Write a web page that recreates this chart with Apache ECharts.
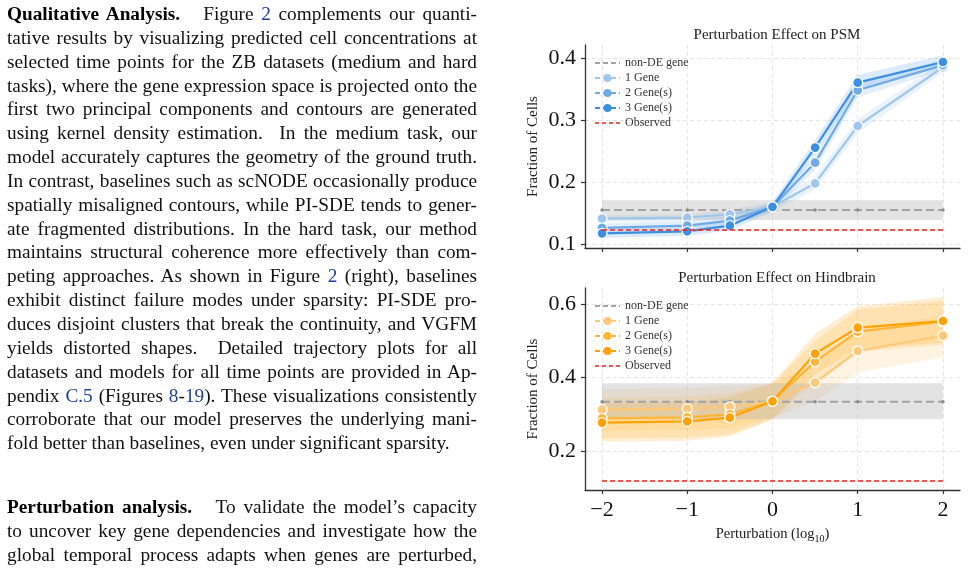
<!DOCTYPE html>
<html>
<head>
<meta charset="utf-8">
<script src="https://cdn.jsdelivr.net/npm/echarts@6/dist/echarts.min.js"></script>
<style>
  html, body { margin: 0; padding: 0; background: #fff; }
  #wrap { position: relative; width: 968px; height: 569px; overflow: hidden; }
  #chart { position: absolute; left: 0; top: 0; width: 968px; height: 569px; }
  .para { position: absolute; left: 7px; width: 470px; font-family: "Liberation Serif", "Times New Roman", serif;
          font-size: 19.3px; line-height: 23.85px; color: #111; }
  .para div { white-space: nowrap; text-align: justify; text-align-last: justify; }
  .para div.last { text-align-last: left; }
  .para a { color: #1f3f99; text-decoration: none; }
  .para b { font-weight: bold; color: #000; }
</style>
</head>
<body>
<div id="wrap">
  <div id="chart"></div>
  <div class="para" style="top:2px;">
    <div><b>Qualitative Analysis.</b>&nbsp;&nbsp; Figure <a>2</a> complements our quanti-</div>
    <div>tative results by visualizing predicted cell concentrations at</div>
    <div>selected time points for the ZB datasets (medium and hard</div>
    <div>tasks), where the gene expression space is projected onto the</div>
    <div>first two principal components and contours are generated</div>
    <div>using kernel density estimation.&nbsp; In the medium task, our</div>
    <div>model accurately captures the geometry of the ground truth.</div>
    <div>In contrast, baselines such as scNODE occasionally produce</div>
    <div>spatially misaligned contours, while PI-SDE tends to gener-</div>
    <div>ate fragmented distributions. In the hard task, our method</div>
    <div>maintains structural coherence more effectively than com-</div>
    <div>peting approaches. As shown in Figure <a>2</a> (right), baselines</div>
    <div>exhibit distinct failure modes under sparsity: PI-SDE pro-</div>
    <div>duces disjoint clusters that break the continuity, and VGFM</div>
    <div>yields distorted shapes.&nbsp; Detailed trajectory plots for all</div>
    <div>datasets and models for all time points are provided in Ap-</div>
    <div>pendix <a>C.5</a> (Figures <a>8</a>-<a>19</a>). These visualizations consistently</div>
    <div>corroborate that our model preserves the underlying mani-</div>
    <div class="last">fold better than baselines, even under significant sparsity.</div>
  </div>
  <div class="para" style="top:495px;">
    <div><b>Perturbation analysis.</b>&nbsp;&nbsp; To validate the model’s capacity</div>
    <div>to uncover key gene dependencies and investigate how the</div>
    <div>global temporal process adapts when genes are perturbed,</div>
  </div>
</div>
<script>
// ---------------- data ----------------
const xVals = [-2, -1, -0.5, 0, 0.5, 1, 2];
const xTicks = [-2, -1, 0, 1, 2];

// PSM panel
const psmGene1   = [0.141, 0.1426, 0.148, 0.160, 0.198, 0.2907, 0.3855];
const psmGene1Lo = [0.135, 0.137, 0.142, 0.152, 0.188, 0.279, 0.377];
const psmGene1Hi = [0.147, 0.148, 0.155, 0.168, 0.210, 0.302, 0.395];
const psmGene2   = [0.126, 0.1297, 0.1377, 0.160, 0.2314, 0.3483, 0.389];
const psmGene2Lo = [0.119, 0.122, 0.130, 0.152, 0.220, 0.337, 0.381];
const psmGene2Hi = [0.133, 0.137, 0.146, 0.168, 0.243, 0.360, 0.398];
const psmGene3   = [0.1172, 0.1205, 0.1296, 0.160, 0.2557, 0.3607, 0.394];
const psmGene3Lo = [0.110, 0.113, 0.122, 0.152, 0.244, 0.350, 0.386];
const psmGene3Hi = [0.125, 0.128, 0.138, 0.168, 0.268, 0.373, 0.405];
const psmNonDE = [0.155, 0.155, 0.155, 0.155, 0.155, 0.155, 0.155];
const psmNonDELo = [0.1388, 0.1388, 0.1388, 0.1388, 0.1388, 0.1388, 0.1388];
const psmNonDEHi = [0.1706, 0.1706, 0.1706, 0.1706, 0.1706, 0.1706, 0.1706];
const psmObserved = 0.1227;
const psmYTicks = [0.1, 0.2, 0.3, 0.4];

// Hindbrain panel
const hbGene1   = [0.3127, 0.3155, 0.320, 0.3355, 0.3864, 0.4727, 0.5145];
const hbGene1Lo = [0.255, 0.258, 0.262, 0.290, 0.335, 0.415, 0.455];
const hbGene1Hi = [0.370, 0.372, 0.378, 0.385, 0.440, 0.530, 0.570];
const hbGene2   = [0.289, 0.2918, 0.300, 0.3355, 0.4436, 0.5255, 0.5527];
const hbGene2Lo = [0.235, 0.237, 0.245, 0.288, 0.390, 0.470, 0.490];
const hbGene2Hi = [0.345, 0.348, 0.358, 0.385, 0.500, 0.585, 0.610];
const hbGene3   = [0.2773, 0.2809, 0.2909, 0.3355, 0.4655, 0.5364, 0.5545];
const hbGene3Lo = [0.225, 0.228, 0.240, 0.285, 0.410, 0.480, 0.495];
const hbGene3Hi = [0.330, 0.333, 0.345, 0.385, 0.520, 0.595, 0.620];
const hbNonDE = [0.3345, 0.3345, 0.3345, 0.3345, 0.3345, 0.3345, 0.3345];
const hbNonDELo = [0.2864, 0.2864, 0.2864, 0.2864, 0.2864, 0.2864, 0.2864];
const hbNonDEHi = [0.3845, 0.3845, 0.3845, 0.3845, 0.3845, 0.3845, 0.3845];
const hbObserved = 0.118;
const hbYTicks = [0.2, 0.4, 0.6];

const legendNames = ['non-DE gene', '1 Gene', '2 Gene(s)', '3 Gene(s)', 'Observed'];

// ---------------- styles ----------------
const blues = ['#9fc6ec', '#6eaae6', '#3d8fe0'];
const oranges = ['#fdc878', '#ffb637', '#ffa205'];
const grayLine = '#a3a3a3';
const grayDot = '#8c8c8c';
const redLine = '#f21c1c';
const serif = '"Liberation Serif", "Times New Roman", serif';

function fmtTick(v) {
  if (Math.abs(v) < 1e-9) return '0';
  return v < 0 ? '\u2212' + Math.abs(v) : String(v);
}

function bandSeries(gi, lo, hi, color, opacity, z) {
  return {
    type: 'custom', xAxisIndex: gi, yAxisIndex: gi, silent: true, z: z,
    data: xVals.map((x, i) => [x, lo[i], hi[i]]),
    encode: { x: 0, y: [1, 2] },
    renderItem: function (params, api) {
      if (params.dataIndex !== 0) return null;
      const pts = [];
      for (let i = 0; i < xVals.length; i++) pts.push(api.coord([xVals[i], hi[i]]));
      for (let i = xVals.length - 1; i >= 0; i--) pts.push(api.coord([xVals[i], lo[i]]));
      return { type: 'polygon', shape: { points: pts }, style: { fill: color, opacity: opacity } };
    }
  };
}

function geneSeries(gi, name, vals, color, z) {
  return {
    type: 'line', name: name, xAxisIndex: gi, yAxisIndex: gi, z: z,
    data: xVals.map((x, i) => [x, vals[i]]),
    symbol: 'circle', symbolSize: 10, showSymbol: true,
    lineStyle: { color: color, width: 2.2 },
    itemStyle: { color: color, borderColor: '#ffffff', borderWidth: 1.3 },
    emphasis: { disabled: true }
  };
}

function nonDESeries(gi, name, vals) {
  return {
    type: 'line', name: name, xAxisIndex: gi, yAxisIndex: gi, z: 4,
    data: xVals.map((x, i) => [x, vals[i]]),
    symbol: 'circle', symbolSize: 3.5,
    lineStyle: { color: grayLine, width: 2, type: [8, 4] },
    itemStyle: { color: grayDot },
    emphasis: { disabled: true }
  };
}

function observedSeries(gi, name, v) {
  return {
    type: 'line', name: name, xAxisIndex: gi, yAxisIndex: gi, z: 6,
    data: [[xVals[0], v], [xVals[xVals.length - 1], v]],
    symbol: 'none',
    lineStyle: { color: redLine, width: 1.5, type: [5, 3] },
    itemStyle: { color: redLine },
    emphasis: { disabled: true }
  };
}

function panelSeries(gi, prefix, d, cols) {
  return [
    bandSeries(gi, d.g1lo, d.g1hi, cols[0], 0.22, 1),
    bandSeries(gi, d.g2lo, d.g2hi, cols[1], 0.2, 1),
    bandSeries(gi, d.g3lo, d.g3hi, cols[2], 0.18, 1),
    bandSeries(gi, d.nlo, d.nhi, '#b0b0b0', 0.35, 2),
    nonDESeries(gi, prefix + '|non-DE gene', d.non),
    geneSeries(gi, prefix + '|1 Gene', d.g1, cols[0], 5),
    geneSeries(gi, prefix + '|2 Gene(s)', d.g2, cols[1], 5),
    geneSeries(gi, prefix + '|3 Gene(s)', d.g3, cols[2], 5),
    observedSeries(gi, prefix + '|Observed', d.obs)
  ];
}

function legendFor(prefix, top, cols) {
  const colorMap = { 'non-DE gene': grayLine, '1 Gene': cols[0], '2 Gene(s)': cols[1], '3 Gene(s)': cols[2], 'Observed': redLine };
  return {
    orient: 'vertical', left: 589, top: top,
    itemWidth: 25, itemHeight: 10, itemGap: 3,
    selectedMode: false,
    formatter: n => n.split('|')[1],
    textStyle: { fontFamily: serif, fontSize: 12, color: '#333', lineHeight: 12 },
    data: legendNames.map(n => ({
      name: prefix + '|' + n,
      itemStyle: { color: colorMap[n], borderWidth: 0, opacity: (n === 'non-DE gene' || n === 'Observed') ? 0 : 1 },
      lineStyle: { color: colorMap[n], width: n === 'Observed' ? 1.5 : 2, type: n === 'Observed' ? [4, 3] : [5, 3] }
    }))
  };
}

function xAxisFor(gi, showLabels, withName) {
  return {
    type: 'value', gridIndex: gi, min: -2.2, max: 2.2,
    axisLine: { show: true, onZero: false, lineStyle: { color: '#333', width: 1.3 } },
    axisTick: { show: true, inside: false, length: 4, customValues: xTicks, lineStyle: { color: '#333', width: 1.2 } },
    axisLabel: { show: showLabels, customValues: xTicks, formatter: fmtTick, margin: 9,
                 fontFamily: serif, fontSize: 22, color: '#111' },
    splitLine: { show: true, lineStyle: { color: '#e2e2e2', width: 0.9, type: [4, 3] } },
    name: withName ? '{n|Perturbation (log}{s|10}{n|)}' : '',
    nameLocation: 'middle', nameGap: 35,
    nameTextStyle: { rich: {
      n: { fontFamily: serif, fontSize: 14.5, color: '#222' },
      s: { fontFamily: serif, fontSize: 10, color: '#222', padding: [9, 0, 0, 0] }
    } }
  };
}

function yAxisFor(gi, min, max, ticks) {
  return {
    type: 'value', gridIndex: gi, min: min, max: max,
    axisLine: { show: true, onZero: false, lineStyle: { color: '#333', width: 1.3 } },
    axisTick: { show: true, inside: false, length: 4, customValues: ticks, lineStyle: { color: '#333', width: 1.2 } },
    axisLabel: { customValues: ticks, formatter: v => v.toFixed(1), margin: 9,
                 fontFamily: serif, fontSize: 22, color: '#111' },
    splitLine: { show: true, lineStyle: { color: '#e2e2e2', width: 0.9, type: [4, 3] } },
    name: 'Fraction of Cells', nameLocation: 'middle', nameGap: 44, nameRotate: 90,
    nameTextStyle: { fontFamily: serif, fontSize: 15, color: '#222' }
  };
}

const psmData = { g1: psmGene1, g1lo: psmGene1Lo, g1hi: psmGene1Hi, g2: psmGene2, g2lo: psmGene2Lo, g2hi: psmGene2Hi,
  g3: psmGene3, g3lo: psmGene3Lo, g3hi: psmGene3Hi, non: psmNonDE, nlo: psmNonDELo, nhi: psmNonDEHi, obs: psmObserved };
const hbData = { g1: hbGene1, g1lo: hbGene1Lo, g1hi: hbGene1Hi, g2: hbGene2, g2lo: hbGene2Lo, g2hi: hbGene2Hi,
  g3: hbGene3, g3lo: hbGene3Lo, g3hi: hbGene3Hi, non: hbNonDE, nlo: hbNonDELo, nhi: hbNonDEHi, obs: hbObserved };

const chart = echarts.init(document.getElementById('chart'), null, { renderer: 'canvas' });
chart.setOption({
  animation: false,
  backgroundColor: 'transparent',
  title: [
    { text: 'Perturbation Effect on PSM', left: 772, top: 23, textAlign: 'center',
      textStyle: { fontFamily: serif, fontSize: 15, fontWeight: 'normal', color: '#222' } },
    { text: 'Perturbation Effect on Hindbrain', left: 772, top: 266, textAlign: 'center',
      textStyle: { fontFamily: serif, fontSize: 15, fontWeight: 'normal', color: '#222' } }
  ],
  grid: [
    { left: 585, right: 8, top: 45, height: 203 },
    { left: 585, right: 8, top: 288, height: 202 }
  ],
  xAxis: [xAxisFor(0, false, false), xAxisFor(1, true, true)],
  yAxis: [yAxisFor(0, 0.0935, 0.4215, psmYTicks), yAxisFor(1, 0.0936, 0.6445, hbYTicks)],
  legend: [legendFor('PSM', 52, blues), legendFor('HB', 295, oranges)],
  series: [].concat(panelSeries(0, 'PSM', psmData, blues), panelSeries(1, 'HB', hbData, oranges))
});
</script>
</body>
</html>
